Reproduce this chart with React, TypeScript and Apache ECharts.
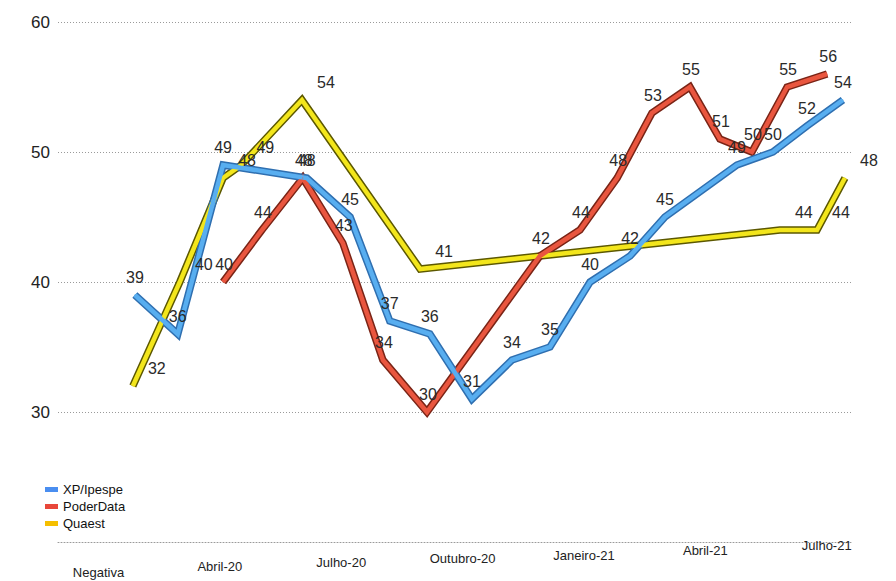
import React, { useEffect, useRef } from "react";
import * as echarts from "echarts";

// x positions are in months since January 2020 (0 = Jan-20)
const xAxisTicks = [0, 3, 6, 9, 12, 15, 18];
const xAxisLabels = ["Negativa", "Abril-20", "Julho-20", "Outubro-20", "Janeiro-21", "Abril-21", "Julho-21"];

const seriesNames = ["XP/Ipespe", "PoderData", "Quaest"];

const xpMonths = [0.9, 1.96, 3.08, 5.15, 6.22, 7.2, 8.19, 9.23, 10.22, 11.16, 12.15, 13.14, 14.0, 15.78, 16.67, 17.51, 18.4];
const xpValues = [39, 36, 49, 48, 45, 37, 36, 31, 34, 35, 40, 42, 45, 49, 50, 52, 54];

const poderMonths = [3.08, 4.04, 5.05, 6.04, 7.03, 8.12, 10.91, 11.9, 12.82, 13.68, 14.62, 15.36, 16.15, 17.02, 18.01];
const poderValues = [40, 44, 48, 43, 34, 30, 42, 44, 48, 53, 55, 51, 50, 55, 56];

const quaestMonths = [0.85, 2.01, 3.08, 3.53, 5.03, 7.95, 16.84, 17.76, 18.45];
const quaestValues = [32, 40, 48, 49, 54, 41, 44, 44, 48];

const pair = (xs: number[], ys: number[]) => xs.map((x, i) => [x, ys[i]]);

export default function App() {
  const ref = useRef<HTMLDivElement>(null);
  useEffect(() => {
    if (!ref.current) return;
    const chart = echarts.init(ref.current, null, { renderer: "svg" });
    const font = "'Liberation Sans', Arial, sans-serif";
    const gridLine = { color: "#9a9a9a", type: [1, 2], width: 1 };
    const labelStyle = (offset: number[]) => ({
      show: true,
      position: "top",
      distance: 9,
      offset,
      fontSize: 16,
      color: "#2a2a2a",
      fontFamily: font,
    });
    const mk = (
      name: string,
      data: number[][],
      outline: string,
      fill: string,
      labelOffset: number[]
    ) => [
      {
        name: name + "_outline",
        type: "line",
        data,
        symbol: "none",
        lineStyle: { color: outline, width: 7.5, join: "miter", cap: "butt" },
        silent: true,
        z: 2,
      },
      {
        name,
        type: "line",
        data,
        symbol: "circle",
        symbolSize: 1,
        showAllSymbol: true,
        itemStyle: { color: fill },
        lineStyle: { color: fill, width: 4.5, join: "miter", cap: "butt" },
        label: labelStyle(labelOffset),
        z: 3,
      },
    ];
    const rl = (p: number) => ({ padding: [p, 0, 0, 0], fontSize: 13, color: "#222", fontFamily: font });
    chart.setOption({
      animation: false,
      backgroundColor: "#ffffff",
      grid: { left: 50, right: 37, top: 14, bottom: 39, outerBoundsMode: "none", containLabel: false },
      legend: {
        orient: "vertical",
        left: 32,
        top: 470,
        itemWidth: 13,
        itemHeight: 5,
        itemGap: 4,
        icon: "rect",
        textStyle: { fontSize: 13, color: "#111", fontFamily: font },
        data: [
          { name: seriesNames[0], itemStyle: { color: "#4a8ef0" } },
          { name: seriesNames[1], itemStyle: { color: "#e8473a" } },
          { name: seriesNames[2], itemStyle: { color: "#f5bf00" } },
        ],
      },
      xAxis: {
        type: "value",
        min: -1,
        max: 18.6,
        axisLine: { show: true, lineStyle: gridLine },
        axisTick: { show: false },
        splitLine: { show: false },
        axisLabel: {
          customValues: xAxisTicks,
          margin: 2,
          formatter: (v: number) => {
            const i = xAxisTicks.indexOf(Math.round(v));
            return i >= 0 ? `{l${i}|${xAxisLabels[i]}}` : "";
          },
          rich: {
            l0: rl(22),
            l1: rl(16),
            l2: rl(12),
            l3: rl(8),
            l4: rl(5),
            l5: rl(0),
            l6: rl(-5),
          },
        },
      },
      yAxis: {
        type: "value",
        min: 20,
        max: 60,
        interval: 10,
        axisLine: { show: false },
        axisTick: { show: false },
        axisLabel: {
          margin: 8,
          fontSize: 17,
          color: "#222",
          fontFamily: font,
          formatter: (v: number) => (v === 20 ? "" : String(v)),
        },
        splitLine: {
          show: true,
          lineStyle: gridLine,
        },
      },
      series: [
        ...mk(seriesNames[2], pair(quaestMonths, quaestValues), "#5c5800", "#f3e61c", [24, 0]),
        ...mk(seriesNames[1], pair(poderMonths, poderValues), "#7a2416", "#e9563f", [1, 0]),
        ...mk(seriesNames[0], pair(xpMonths, xpValues), "#2f6fb0", "#58aef0", [0, 0]),
      ],
    });
    return () => chart.dispose();
  }, []);
  return <div ref={ref} style={{ width: 880, height: 573 }} />;
}
